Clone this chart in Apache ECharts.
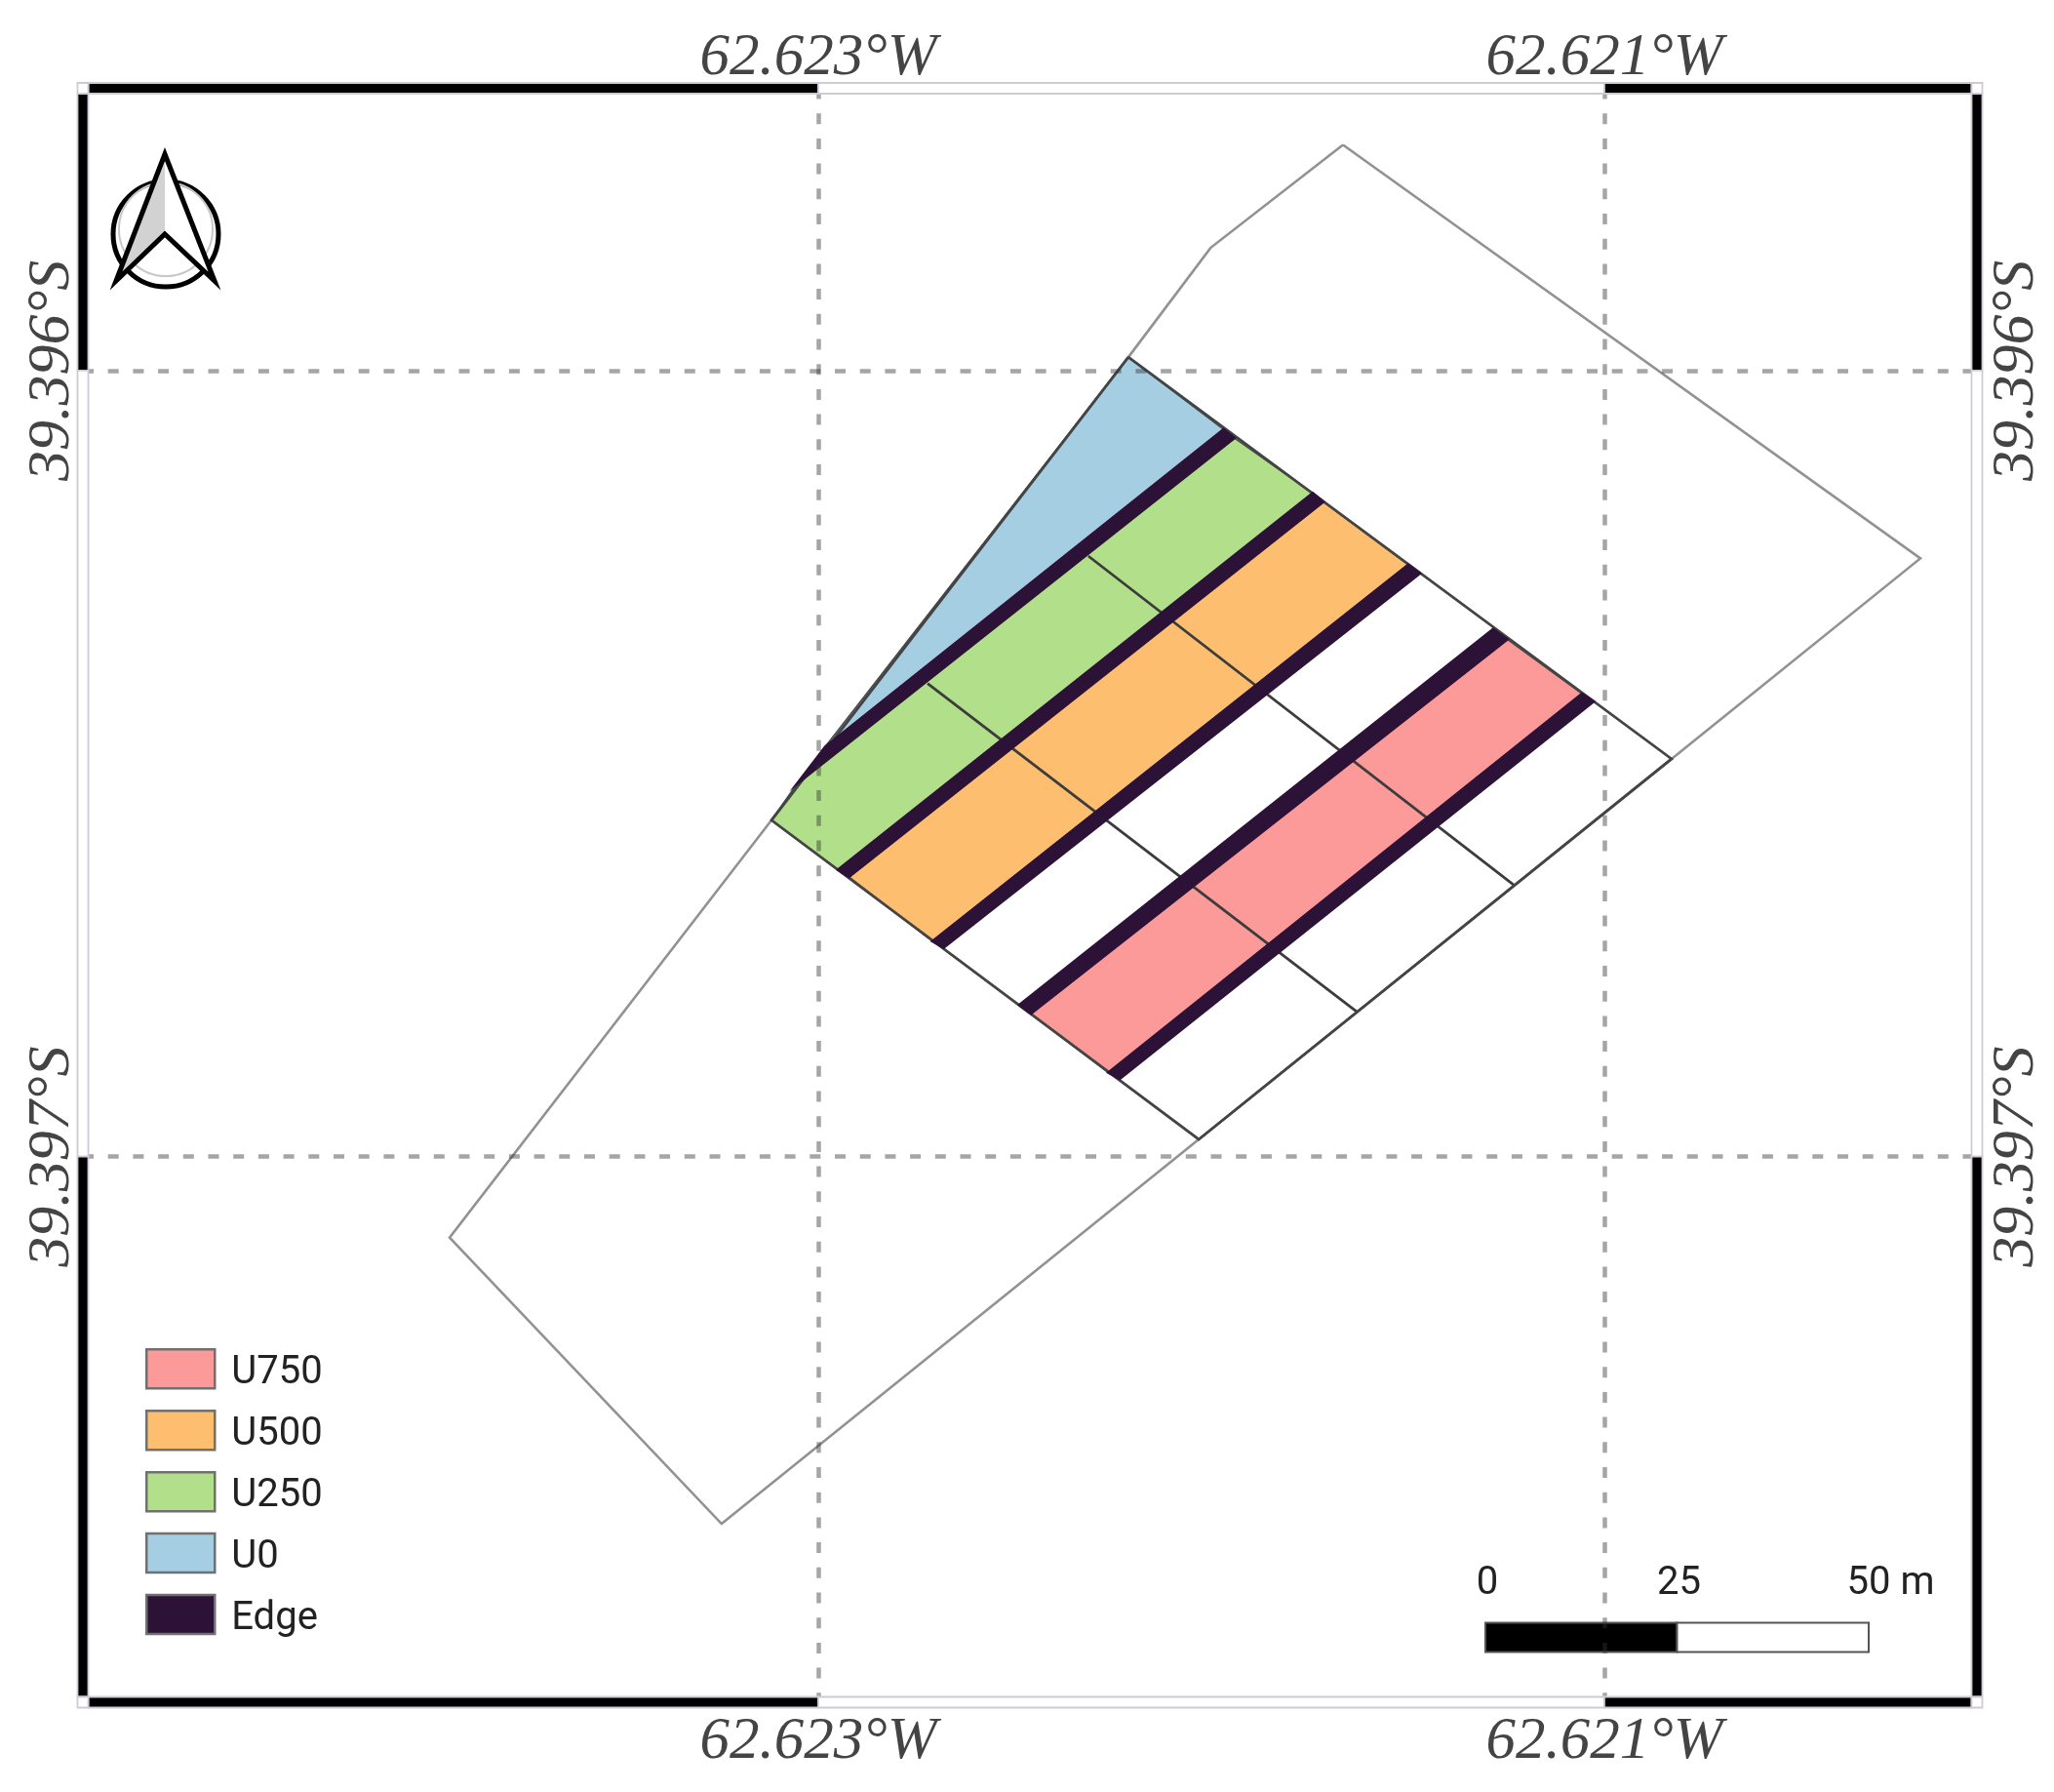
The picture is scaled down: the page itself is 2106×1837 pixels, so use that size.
<!DOCTYPE html>
<html>
<head>
<meta charset="utf-8">
<title>Plot map</title>
<script src="https://cdn.jsdelivr.net/npm/echarts@6/dist/echarts.min.js"></script>
<style>
  html, body { margin: 0; padding: 0; background: #fff; }
  #chart { width: 2106px; height: 1837px; }
</style>
</head>
<body>
<div id="chart"></div>
<script>
// map extent and graticule, degrees
const lonRange = [-62.624871, -62.620052];
const latRange = [-39.397694, -39.395641];
const lonTicks = [-62.623, -62.621];
const latTicks = [-39.397, -39.396];

// field boundary
const fieldOutline = [
  [-62.621665, -39.395713], [-62.622002, -39.395844], [-62.622211, -39.395983],
  [-62.623119, -39.396572], [-62.623938, -39.397103], [-62.623246, -39.397467],
  [-62.622032, -39.396978], [-62.620829, -39.396494], [-62.620196, -39.396239]
];
// trial block corners
const blockOutline = [
  [-62.622211, -39.395983], [-62.623119, -39.396572],
  [-62.622032, -39.396978], [-62.620829, -39.396494]
];
// lines across the strips
const crossLines = [
  [[-62.622722, -39.396398], [-62.621629, -39.396816]],
  [[-62.622313, -39.396236], [-62.621229, -39.396655]]
];

// treatment strips
const stripU0 = [[[-62.622211, -39.395983], [-62.621969, -39.396075], [-62.622983, -39.396479]]];
const stripU250 = [[[-62.623055, -39.396526], [-62.621941, -39.396086], [-62.621742, -39.396156],
  [-62.622950, -39.396635], [-62.623119, -39.396572]]];
const stripU500 = [[[-62.622922, -39.396644], [-62.621715, -39.396167], [-62.621499, -39.396247],
  [-62.622710, -39.396726]]];
const stripU750 = [[[-62.622459, -39.396818], [-62.621247, -39.396342], [-62.621057, -39.396411],
  [-62.622262, -39.396893]]];
const stripEdge = [
  [[-62.622983, -39.396479], [-62.621969, -39.396075], [-62.621941, -39.396086], [-62.623055, -39.396526]],
  [[-62.622950, -39.396635], [-62.621742, -39.396156], [-62.621715, -39.396167], [-62.622922, -39.396644]],
  [[-62.622710, -39.396726], [-62.621499, -39.396247], [-62.621469, -39.396258], [-62.622681, -39.396734]],
  [[-62.622489, -39.396807], [-62.621283, -39.396329], [-62.621247, -39.396342], [-62.622459, -39.396818]],
  [[-62.622262, -39.396893], [-62.621057, -39.396411], [-62.621027, -39.396421], [-62.622233, -39.396901]]
];

const legendNames = ["U750", "U500", "U250", "U0", "Edge"];
const scaleStops = [0, 25, 50];

const labelFont = { fontFamily: "Liberation Serif", fontStyle: "italic", color: "#444" };
const sansFont = "Roboto";
const pxPerMetre = 7.86;
const scaleLeft = 1523;

function polygonSeries(name, polys, fill, stroke, lineWidth, z) {
  return {
    type: "custom",
    name: name,
    z: z,
    silent: true,
    itemStyle: { color: fill },
    data: polys.map((p, i) => [i]),
    renderItem: function (params, api) {
      const points = polys[api.value(0)].map((p) => api.coord(p));
      return {
        type: "polygon",
        shape: { points: points },
        style: { fill: fill, stroke: stroke, lineWidth: lineWidth, lineJoin: "miter" },
      };
    },
  };
}

function lineSeries(name, lines, stroke, lineWidth, z) {
  return {
    type: "custom",
    name: name,
    z: z,
    silent: true,
    data: lines.map((p, i) => [i]),
    renderItem: function (params, api) {
      const points = lines[api.value(0)].map((p) => api.coord(p));
      return {
        type: "polyline",
        shape: { points: points },
        style: { fill: null, stroke: stroke, lineWidth: lineWidth },
      };
    },
  };
}

// black and white neatline, split at the graticule
function frameSeries() {
  const half = 5.5;
  const lonStops = [lonRange[0], lonTicks[0], lonTicks[1], lonRange[1]];
  const latStops = [latRange[1], latTicks[1], latTicks[0], latRange[0]];
  const fills = ["#000", "#fff", "#000"];
  const segments = [];
  [latRange[1], latRange[0]].forEach((lat) => {
    fills.forEach((f, i) => segments.push({ a: [lonStops[i], lat], b: [lonStops[i + 1], lat], f: f, first: i === 0, last: i === 2 }));
  });
  [lonRange[0], lonRange[1]].forEach((lon) => {
    fills.forEach((f, i) => segments.push({ a: [lon, latStops[i]], b: [lon, latStops[i + 1]], f: f, first: i === 0, last: i === 2 }));
    [latRange[0], latRange[1]].forEach((lat) => segments.push({ corner: [lon, lat], f: "#fff" }));
  });
  return {
    type: "custom",
    name: "frame",
    z: 10,
    silent: true,
    data: segments.map((s, i) => [i]),
    renderItem: function (params, api) {
      const s = segments[api.value(0)];
      let shape;
      if (s.corner) {
        const c = api.coord(s.corner);
        shape = { x: c[0] - half, y: c[1] - half, width: half * 2, height: half * 2 };
      } else {
        const p1 = api.coord(s.a);
        const p2 = api.coord(s.b);
        const horizontal = Math.abs(p1[1] - p2[1]) < 1;
        shape = horizontal
          ? { x: p1[0] + (s.first ? half : 0), y: p1[1] - half, width: p2[0] - p1[0] - (s.first ? half : 0) - (s.last ? half : 0), height: half * 2 }
          : { x: p1[0] - half, y: p1[1] + (s.first ? half : 0), width: half * 2, height: p2[1] - p1[1] - (s.first ? half : 0) - (s.last ? half : 0) };
      }
      return {
        type: "rect",
        shape: shape,
        style: { fill: s.f, stroke: "#d0c9d6", lineWidth: 1.8 },
      };
    },
  };
}

const dashStyle = { color: "rgba(50,50,50,0.44)", width: 4.5, type: [11, 14.7] };

function lonAxis(position, showGrid, margin) {
  return {
    type: "value",
    position: position,
    min: lonRange[0],
    max: lonRange[1],
    z: 5,
    axisLine: { show: false },
    axisTick: { show: false, customValues: lonTicks },
    splitLine: { show: showGrid, lineStyle: dashStyle },
    axisLabel: Object.assign({
      customValues: lonTicks,
      fontSize: 61,
      margin: margin,
      formatter: (v) => Math.abs(v).toFixed(3) + "°W",
    }, labelFont),
  };
}

function latAxis(position, showGrid, margin) {
  return {
    type: "value",
    position: position,
    min: latRange[0],
    max: latRange[1],
    z: 5,
    axisLine: { show: false },
    axisTick: { show: false, customValues: latTicks },
    splitLine: { show: showGrid, lineStyle: dashStyle },
    axisLabel: Object.assign({
      customValues: latTicks,
      fontSize: 62,
      rotate: 90,
      margin: margin,
      formatter: (v) => Math.abs(v).toFixed(3) + "°S",
    }, labelFont),
  };
}

// north arrow, scale bar
const northArrow = [
  { type: "circle", shape: { cx: 170, cy: 240, r: 54 }, style: { fill: "#fff", stroke: "#000", lineWidth: 5 } },
  { type: "circle", shape: { cx: 170, cy: 235, r: 48 }, style: { fill: "none", stroke: "#c8c8c8", lineWidth: 2 } },
  { type: "polygon", shape: { points: [[169, 158], [119, 288], [169, 240], [220, 288]] }, style: { fill: "#fff", stroke: "none" } },
  { type: "polygon", shape: { points: [[169, 158], [119, 288], [169, 240]] }, style: { fill: "#d2d2d2", stroke: "none" } },
  { type: "polygon", shape: { points: [[169, 158], [119, 288], [169, 240], [220, 288]] }, style: { fill: "none", stroke: "#000", lineWidth: 5, lineJoin: "miter", miterLimit: 10 } },
];

const scaleBar = [];
scaleStops.slice(0, -1).forEach((m, i) => {
  scaleBar.push({
    type: "rect",
    shape: { x: scaleLeft + m * pxPerMetre, y: 1663.5, width: (scaleStops[i + 1] - m) * pxPerMetre, height: 30 },
    style: { fill: i % 2 ? "#fff" : "#000", stroke: "#555", lineWidth: 2 },
  });
});
scaleStops.forEach((m, i) => {
  const last = i === scaleStops.length - 1;
  scaleBar.push({
    type: "text",
    x: scaleLeft + m * pxPerMetre + (last ? -22.5 : 2),
    y: 1624,
    style: {
      text: last ? m + " m" : String(m),
      font: "40px " + sansFont,
      fill: "#222",
      align: last ? "left" : "center",
      verticalAlign: "middle",
    },
  });
});

const myChart = echarts.init(document.getElementById("chart"));
myChart.setOption({
  animation: false,
  backgroundColor: "#fff",
  grid: { left: 85, right: 79, top: 90.5, bottom: 92, containLabel: false },
  xAxis: [lonAxis("bottom", true, 10), lonAxis("top", false, 0)],
  yAxis: [latAxis("left", true, 0), latAxis("right", false, 10)],
  legend: {
    data: legendNames,
    orient: "vertical",
    left: 149,
    top: 1382,
    padding: 0,
    icon: "rect",
    itemWidth: 70,
    itemHeight: 40,
    itemGap: 17.2,
    selectedMode: false,
    itemStyle: { borderColor: "#707070", borderWidth: 2.5 },
    formatter: (name) => "{a|" + name + "}",
    textStyle: {
      rich: { a: { fontFamily: sansFont, fontSize: 40, color: "#222", padding: [9, 0, 0, 12] } },
    },
  },
  series: [
    lineSeries("Field", [fieldOutline.concat([fieldOutline[0]])], "#929292", 2.6, 1),
    polygonSeries("U0", stripU0, "#a6cee3", "#4a4a4a", 1.5, 2),
    polygonSeries("U250", stripU250, "#b2df8a", "#4a4a4a", 1.5, 2),
    polygonSeries("U500", stripU500, "#fdbf6f", "#4a4a4a", 1.5, 2),
    polygonSeries("U750", stripU750, "#fb9a99", "#4a4a4a", 1.5, 2),
    lineSeries("Cross", crossLines, "#3c3c3c", 2.8, 3),
    polygonSeries("Edge", stripEdge, "#2d1238", "#2d1238", 2.6, 4),
    lineSeries("Block", [blockOutline.concat([blockOutline[0]])], "#444", 2.8, 3),
    frameSeries(),
  ],
  graphic: { elements: [{ type: "group", z: 20, children: northArrow.concat(scaleBar) }] },
});
</script>
</body>
</html>
